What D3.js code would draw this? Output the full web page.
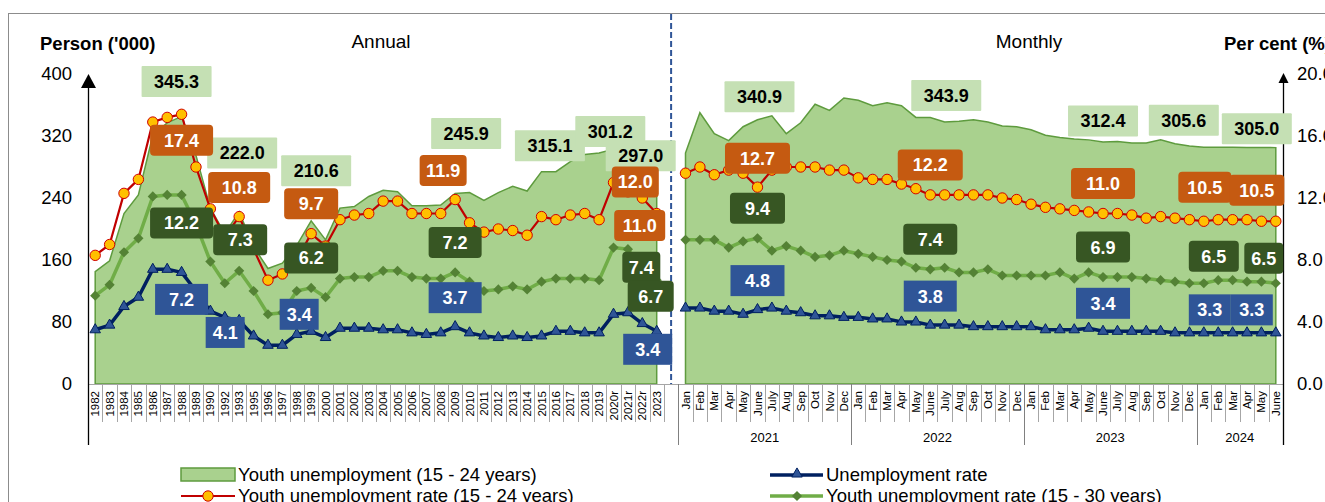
<!DOCTYPE html>
<html lang="en">
<head>
<meta charset="UTF-8">
<title>Youth unemployment</title>
<script src="https://d3js.org/d3.v7.min.js"></script>
<style>
  body { margin: 0; background: #fff; }
  svg { display: block; font-family: "Liberation Sans", Arial, sans-serif; }
</style>
</head>
<body>
<script>
// ---- data ----
const annualCats = ["1982","1983","1984","1985","1986","1987","1988","1989","1990","1992","1993","1995","1996","1997","1998","1999","2000",
  "2001","2002","2003","2004","2005","2006","2007","2008","2009","2010","2011","2012","2013","2014","2015","2016","2017","2018","2019",
  "2020r","2021r","2022r","2023"];
// youth unemployment 15-24, '000
const annualYouth = [145,159,220,244,321,337,345.3,295,227,194,222.0,177,149,156,179,210.6,186,
  227,229,242,250,248,230,230,231,245.9,247,237,247,255,249,274,274,287,296,298,303,315.1,301.2,297.0];
// youth unemployment rate 15-24, %
const annualYouthRate = [8.3,9.0,12.3,13.2,16.9,17.2,17.4,14.0,11.3,9.5,10.8,8.7,6.7,7.1,8.0,9.7,8.9,
  10.6,10.9,11.0,11.8,11.8,11.0,11.0,11.0,11.9,10.4,9.8,10.0,9.9,9.6,10.8,10.6,10.9,11.0,10.6,13.0,12.4,12.0,11.0];
// youth unemployment rate 15-30, %
const annualRate1530 = [5.7,6.4,8.5,9.4,12.1,12.2,12.2,10.3,7.9,6.5,7.3,6.0,4.5,4.6,6.0,6.2,5.6,
  6.8,6.9,6.9,7.3,7.3,6.9,6.8,6.8,7.2,6.6,6.0,6.1,6.3,6.1,6.6,6.8,6.8,6.8,6.7,8.8,8.7,7.4,6.7];
// unemployment rate, %
const annualUnemp = [3.5,3.8,5.0,5.6,7.4,7.4,7.2,6.0,4.7,4.3,4.1,3.1,2.5,2.5,3.2,3.4,3.0,
  3.6,3.6,3.6,3.5,3.5,3.3,3.2,3.3,3.7,3.3,3.1,3.0,3.1,3.0,3.1,3.4,3.4,3.3,3.3,4.5,4.6,3.9,3.4];

const years = ["2021","2022","2023","2024"];
const months = ["Jan","Feb","Mar","Apr","May","June","July","Aug","Sep","Oct","Nov","Dec"];
const monthlyYouth = [298,350,323,314,332,340.9,346,323,337,361,353,369,
  366,359,363,359,344,343.9,338,339,341,338,333,332,
  328,321,318,316,315,312.4,313,311,311,315,310,307,
  305.6,305.5,305.4,305.3,305.2,305.0];
const monthlyYouthRate = [13.6,14.0,13.5,13.8,13.6,12.7,13.8,14.0,14.0,14.0,13.8,13.8,
  13.3,13.2,13.2,12.9,12.6,12.2,12.2,12.2,12.2,12.2,12.0,11.9,
  11.6,11.4,11.3,11.2,11.1,11.0,11.0,10.9,10.7,10.8,10.7,10.6,
  10.5,10.6,10.6,10.6,10.5,10.5];
const monthlyRate1530 = [9.3,9.3,9.3,8.8,9.2,9.4,8.6,8.9,8.6,8.2,8.3,8.6,
  8.4,8.2,8.0,7.9,7.5,7.4,7.5,7.2,7.2,7.4,7.0,7.0,
  7.0,7.0,7.2,6.8,7.2,6.9,6.9,6.9,6.8,6.7,6.6,6.5,
  6.5,6.7,6.7,6.6,6.6,6.5];
const monthlyUnemp = [4.9,4.9,4.7,4.7,4.5,4.8,4.9,4.7,4.6,4.4,4.4,4.3,
  4.3,4.2,4.2,4.0,4.0,3.8,3.8,3.8,3.7,3.7,3.7,3.7,
  3.7,3.5,3.5,3.5,3.6,3.4,3.4,3.4,3.4,3.4,3.3,3.3,
  3.3,3.3,3.3,3.3,3.3,3.3];

const leftTicks = [0,80,160,240,320,400];
const rightTicks = [0,4,8,12,16,20];

// ---- label placement (offset from the labelled point) ----
const youthLabels = [
  {k:"A1988", dx:-5, dy:-35, w:70}, {k:"A1993", dx:3, dy:-59, w:70}, {k:"A1999", dx:5, dy:-50, w:70},
  {k:"A2009", dx:11, dy:-60, w:70}, {k:"A2021r", dx:-78, dy:6, w:70}, {k:"A2022r", dx:-32, dy:-19, w:70},
  {k:"A2023", dx:-16, dy:2, w:70},
  {k:"2021-June", dx:2, dy:-23, w:70}, {k:"2022-June", dx:16, dy:-22, w:70}, {k:"2023-June", dx:0, dy:-21, w:70},
  {k:"2024-Jan", dx:-20, dy:-27, w:70}, {k:"2024-June", dx:-19, dy:-19, w:70}
];
const rateLabels = [
  {k:"A1988", dx:0, dy:26, w:63}, {k:"A1993", dx:0, dy:-29, w:62}, {k:"A1999", dx:0, dy:-30, w:54},
  {k:"A2009", dx:-12, dy:-29, w:47}, {k:"A2022r", dx:-7, dy:-16, w:47}, {k:"A2023", dx:-17, dy:12, w:51},
  {k:"2021-June", dx:0, dy:-29, w:65}, {k:"2022-June", dx:0, dy:-30, w:65}, {k:"2023-June", dx:0, dy:-30, w:64},
  {k:"2024-Jan", dx:1, dy:-34, w:53}, {k:"2024-June", dx:-19, dy:-31, w:55}
];
const r30Labels = [
  {k:"A1988", dx:0, dy:28, w:63}, {k:"A1993", dx:1, dy:-31, w:54}, {k:"A1999", dx:0, dy:-30, w:54},
  {k:"A2009", dx:0, dy:-30, w:53}, {k:"A2022r", dx:-1, dy:-2, w:38}, {k:"A2023", dx:-6, dy:16, w:46},
  {k:"2021-June", dx:0, dy:-30, w:55}, {k:"2022-June", dx:0, dy:-30, w:54}, {k:"2023-June", dx:0, dy:-30, w:54},
  {k:"2024-Jan", dx:10, dy:-27, w:50}, {k:"2024-June", dx:-12, dy:-25, w:39}
];
const urLabels = [
  {k:"A1988", dx:0, dy:27, w:53}, {k:"A1993", dx:-14, dy:12, w:39}, {k:"A1999", dx:-12, dy:-17, w:39},
  {k:"A2009", dx:0, dy:-29, w:53}, {k:"A2023", dx:-9, dy:18, w:49},
  {k:"2021-June", dx:0, dy:-29, w:54}, {k:"2022-June", dx:0, dy:-29, w:53}, {k:"2023-June", dx:0, dy:-28, w:54},
  {k:"2024-Jan", dx:6, dy:-23, w:42}, {k:"2024-June", dx:-24, dy:-23, w:42}
];

// ---- build points ----
const annualPts = annualCats.map((c, i) => ({k: "A" + c, label: c, youth: annualYouth[i],
  rate: annualYouthRate[i], r30: annualRate1530[i], ur: annualUnemp[i]}));
const monthPts = monthlyYouth.map((v, i) => {
  const yr = years[Math.floor(i / 12)], m = months[i % 12];
  return {k: yr + "-" + m, label: m, year: yr, youth: v, rate: monthlyYouthRate[i],
    r30: monthlyRate1530[i], ur: monthlyUnemp[i]};
});
const byKey = new Map([...annualPts, ...monthPts].map(p => [p.k, p]));

const W = 1325, H = 502;
const svg = d3.select("body").append("svg").attr("width", W).attr("height", H);

const x = d3.scaleBand().domain([...annualPts.map(p => p.k), "gap", ...monthPts.map(p => p.k)]).range([88, 1283]);
const bw = x.bandwidth();
const cx = k => x(k) + bw / 2;
const yL = d3.scaleLinear().domain([0, 400]).range([384, 74]);
const yR = d3.scaleLinear().domain([0, 20]).range([384, 74]);

// frame
svg.append("rect").attr("x", 8.5).attr("y", 13.5).attr("width", 1340).attr("height", 520)
  .attr("fill", "none").attr("stroke", "#8c8c8c");

// areas
const area = d3.area().x(d => cx(d.k)).y0(yL(0)).y1(d => yL(d.youth));
[annualPts, monthPts].forEach(pts => {
  svg.append("path").attr("d", area(pts)).attr("fill", "#A9D18E").attr("stroke", "#5E9B3E").attr("stroke-width", 1.5);
});

// x axis base line
svg.append("line").attr("x1", 88).attr("x2", 1283).attr("y1", 384.5).attr("y2", 384.5).attr("stroke", "#a6a6a6");

// category tick labels
const xAxis = svg.append("g").attr("transform", "translate(0,384)")
  .call(d3.axisBottom(x).tickSize(0).tickFormat(k => k === "gap" ? "" : byKey.get(k).label));
xAxis.select(".domain").remove();
xAxis.selectAll("text").attr("transform", "rotate(-90)").attr("x", -7).attr("y", 0).attr("dy", "0.35em")
  .style("text-anchor", "end").attr("font-size", 11.5).attr("font-family", "Liberation Sans, Arial, sans-serif").attr("fill", "#000");

// separators
const yearStarts = new Set(monthPts.filter((p, i) => i % 12 === 0).map(p => p.k));
const shortSeps = [...annualPts.slice(1).map(p => x(p.k)), x("gap"),
  ...monthPts.filter(p => !yearStarts.has(p.k)).map(p => x(p.k))];
const longSeps = [x(annualPts[0].k), ...[...yearStarts].map(k => x(k)), x.range()[1]];
svg.append("g").selectAll("line").data(shortSeps).join("line")
  .attr("x1", d => Math.round(d) + 0.5).attr("x2", d => Math.round(d) + 0.5).attr("y1", 384).attr("y2", 422)
  .attr("stroke", "#a6a6a6");
svg.append("g").selectAll("line").data(longSeps).join("line")
  .attr("x1", d => Math.round(d) + 0.5).attr("x2", d => Math.round(d) + 0.5).attr("y1", 384).attr("y2", 445)
  .attr("stroke", "#808080");

// year labels
svg.append("g").selectAll("text").data(years).join("text")
  .attr("x", yr => {
    const pts = monthPts.filter(p => p.year === yr);
    return (x(pts[0].k) + x(pts[pts.length - 1].k) + bw) / 2;
  })
  .attr("y", 442).attr("text-anchor", "middle").attr("font-size", 13).text(d => d);

// y axes
const lAxis = svg.append("g").attr("transform", "translate(88,0)")
  .call(d3.axisLeft(yL).tickValues(leftTicks).tickSize(0).tickPadding(16));
const rAxis = svg.append("g").attr("transform", "translate(1283,0)")
  .call(d3.axisRight(yR).tickValues(rightTicks).tickSize(0).tickPadding(14).tickFormat(d3.format(".1f")));
[lAxis, rAxis].forEach(a => {
  a.select(".domain").remove();
  a.selectAll("text").attr("font-size", 18.5).attr("font-family", "Liberation Sans, Arial, sans-serif").attr("fill", "#000");
});
svg.append("line").attr("x1", 88.5).attr("x2", 88.5).attr("y1", 445).attr("y2", 86).attr("stroke", "#000").attr("stroke-width", 1.3);
svg.append("path").attr("d", "M88.5,74 L96,88 L81,88 Z").attr("fill", "#000");
svg.append("line").attr("x1", 1283.5).attr("x2", 1283.5).attr("y1", 445).attr("y2", 82).attr("stroke", "#000").attr("stroke-width", 1.3);
svg.append("path").attr("d", "M1283.5,73 L1288.5,83 L1278.5,83 Z").attr("fill", "#000");

// dashed divider
svg.append("line").attr("x1", cx("gap")).attr("x2", cx("gap")).attr("y1", 14).attr("y2", 384)
  .attr("stroke", "#2F5597").attr("stroke-width", 2).attr("stroke-dasharray", "6,3");

// lines and markers
const triangle = d3.symbol(d3.symbolTriangle, 48)();
const diamond = d3.symbol(d3.symbolSquare, 52)();
const series = [
  {f: "r30", color: "#70AD47", width: 3.5},
  {f: "ur", color: "#002060", width: 3.5},
  {f: "rate", color: "#C00000", width: 2.2}
];
[annualPts, monthPts].forEach(pts => {
  series.forEach(s => {
    svg.append("path").attr("d", d3.line().x(d => cx(d.k)).y(d => yR(d[s.f]))(pts))
      .attr("fill", "none").attr("stroke", s.color).attr("stroke-width", s.width).attr("stroke-linejoin", "round");
  });
  svg.append("g").selectAll("path").data(pts).join("path")
    .attr("d", diamond).attr("transform", d => `translate(${cx(d.k)},${yR(d.r30)}) rotate(45)`)
    .attr("fill", "#548235");
  svg.append("g").selectAll("path").data(pts).join("path")
    .attr("d", triangle).attr("transform", d => `translate(${cx(d.k)},${yR(d.ur)})`)
    .attr("fill", "#2F5597").attr("stroke", "#002060").attr("stroke-width", 1);
  svg.append("g").selectAll("circle").data(pts).join("circle")
    .attr("cx", d => cx(d.k)).attr("cy", d => yR(d.rate)).attr("r", 5.2)
    .attr("fill", "#FFC000").attr("stroke", "#D00000").attr("stroke-width", 1);
});

// data labels
const fmt = d3.format(".1f");
function drawLabels(specs, field, scale, fill, textFill, rx) {
  const g = svg.append("g");
  specs.forEach(s => {
    const v = byKey.get(s.k)[field];
    const px = cx(s.k) + s.dx, py = scale(v) + s.dy, h = s.h || 31;
    g.append("rect").attr("x", px - s.w / 2).attr("y", py - h / 2).attr("width", s.w).attr("height", h)
      .attr("rx", rx).attr("fill", fill);
    g.append("text").attr("x", px).attr("y", py).attr("dy", "0.36em").attr("text-anchor", "middle")
      .attr("font-size", 18).attr("font-weight", "bold").attr("fill", textFill).text(fmt(v));
  });
}
drawLabels(youthLabels, "youth", yL, "#C5E0B4", "#000", 1);
drawLabels(rateLabels, "rate", yR, "#C55A11", "#fff", 4);
drawLabels(r30Labels, "r30", yR, "#375623", "#fff", 4);
drawLabels(urLabels, "ur", yR, "#2F5597", "#fff", 0);

// titles
svg.append("text").attr("x", 40).attr("y", 50).attr("font-size", 18.5).attr("font-weight", "bold").text("Person ('000)");
svg.append("text").attr("x", 1224).attr("y", 50).attr("font-size", 18.5).attr("font-weight", "bold").text("Per cent (%)");
svg.append("text").attr("x", 381).attr("y", 48).attr("font-size", 19).attr("text-anchor", "middle").text("Annual");
svg.append("text").attr("x", 1029).attr("y", 48).attr("font-size", 19).attr("text-anchor", "middle").text("Monthly");

// legend
const lg = svg.append("g").attr("font-size", 18.5);
lg.append("rect").attr("x", 181).attr("y", 468).attr("width", 54).attr("height", 13)
  .attr("fill", "#A9D18E").attr("stroke", "#5E9B3E").attr("stroke-width", 1.5);
lg.append("text").attr("x", 238).attr("y", 481).text("Youth unemployment (15 - 24 years)");
lg.append("line").attr("x1", 770).attr("x2", 823).attr("y1", 475).attr("y2", 475).attr("stroke", "#002060").attr("stroke-width", 3.5);
lg.append("path").attr("d", triangle).attr("transform", "translate(797,474)").attr("fill", "#2F5597").attr("stroke", "#002060");
lg.append("text").attr("x", 826).attr("y", 481).text("Unemployment rate");
lg.append("line").attr("x1", 181).attr("x2", 235).attr("y1", 496).attr("y2", 496).attr("stroke", "#C00000").attr("stroke-width", 2.2);
lg.append("circle").attr("cx", 208).attr("cy", 496).attr("r", 5.2).attr("fill", "#FFC000").attr("stroke", "#D00000");
lg.append("text").attr("x", 238).attr("y", 502).text("Youth unemployment rate (15 - 24 years)");
lg.append("line").attr("x1", 770).attr("x2", 823).attr("y1", 496).attr("y2", 496).attr("stroke", "#70AD47").attr("stroke-width", 3.5);
lg.append("path").attr("d", diamond).attr("transform", "translate(797,496) rotate(45)").attr("fill", "#548235");
lg.append("text").attr("x", 826).attr("y", 502).text("Youth unemployment rate (15 - 30 years)");
</script>
</body>
</html>
